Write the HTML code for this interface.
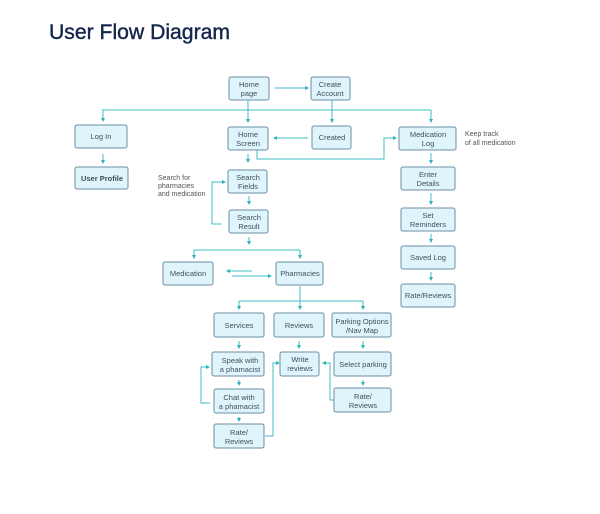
<!DOCTYPE html>
<html><head><meta charset="utf-8"><style>
html,body{margin:0;padding:0;background:#fff;}
svg{display:block;}
.b{fill:#e0f5fb;stroke:#6a8ea6;stroke-width:1;}
.t{font-family:"Liberation Sans",sans-serif;font-size:7.5px;fill:#3d4f5c;text-anchor:middle;}
.n{font-family:"Liberation Sans",sans-serif;font-size:7px;fill:#555;}
.l{stroke:#3fbfc6;stroke-width:1;fill:none;}
.a{fill:#2bb3bb;}
</style></head><body>
<svg width="600" height="514" viewBox="0 0 600 514" xmlns="http://www.w3.org/2000/svg">
<defs><marker id="m" markerWidth="4" markerHeight="4" refX="3" refY="2" orient="auto" markerUnits="userSpaceOnUse"><path d="M0,0 L4,2 L0,4 z" class="a"/></marker></defs>
<text x="49" y="39" font-family="Liberation Sans,sans-serif" font-size="21" fill="#14264d" stroke="#14264d" stroke-width="0.4" textLength="181" lengthAdjust="spacingAndGlyphs">User Flow Diagram</text>

<g class="l">
<path d="M102,110 H431"/>
<path d="M194,250 H300"/>
<path d="M300,286 V301"/>
<path d="M239,301 H363"/>
</g>
<g class="l" marker-end="url(#m)">
<path d="M275,88 H308"/>
<path d="M103,110 V121"/>
<path d="M248,100 V122"/>
<path d="M332,100 V122"/>
<path d="M431,110 V122"/>
<path d="M308,138 H274"/>
<path d="M257,150 V159 H384 V138 H396"/>
<path d="M248,154 V162"/>
<path d="M103,154 V163"/>
<path d="M249,196 V204"/>
<path d="M222,224 H212 V182 H225"/>
<path d="M249,237 V244"/>
<path d="M194,250 V258"/>
<path d="M300,250 V258"/>
<path d="M252,271 H227"/>
<path d="M232,276 H271"/>
<path d="M239,301 V309"/>
<path d="M300,301 V309"/>
<path d="M363,301 V309"/>
<path d="M239,341 V348"/>
<path d="M299,341 V348"/>
<path d="M363,341 V348"/>
<path d="M239,380 V385"/>
<path d="M239,417 V421"/>
<path d="M363,380 V385"/>
<path d="M210,403 H201 V367 H209"/>
<path d="M265,436 H273 V363 H279"/>
<path d="M334,400 H330 V363 H323"/>
<path d="M431,153 V163"/>
<path d="M431,193 V204"/>
<path d="M431,234 V242"/>
<path d="M431,272 V280"/>
</g>

<g>
<rect class="b" x="229" y="77" width="40" height="23" rx="2"/><text class="t" x="249" y="87">Home</text><text class="t" x="249" y="96">page</text>
<rect class="b" x="311" y="77" width="39" height="23" rx="2"/><text class="t" x="330" y="87">Create</text><text class="t" x="330" y="96">Account</text>
<rect class="b" x="75" y="125" width="52" height="23" rx="2"/><text class="t" x="101" y="139">Log In</text>
<rect class="b" x="228" y="127" width="40" height="23" rx="2"/><text class="t" x="248" y="137">Home</text><text class="t" x="248" y="146">Screen</text>
<rect class="b" x="312" y="126" width="39" height="23" rx="2"/><text class="t" x="332" y="140">Created</text>
<rect class="b" x="399" y="127" width="57" height="23" rx="2"/><text class="t" x="428" y="137">Medication</text><text class="t" x="428" y="146">Log</text>
<text class="n" x="465" y="136">Keep track</text><text class="n" x="465" y="145">of all medication</text>
<rect class="b" x="75" y="167" width="53" height="22" rx="2"/><text class="t" x="102" y="181" font-weight="bold">User Profile</text>
<text class="n" x="158" y="180">Search for</text><text class="n" x="158" y="188">pharmacies</text><text class="n" x="158" y="196">and medication</text>
<rect class="b" x="228" y="170" width="39" height="23" rx="2"/><text class="t" x="248" y="180">Search</text><text class="t" x="248" y="189">Fields</text>
<rect class="b" x="229" y="210" width="39" height="23" rx="2"/><text class="t" x="249" y="220">Search</text><text class="t" x="249" y="229">Result</text>
<rect class="b" x="401" y="167" width="54" height="23" rx="2"/><text class="t" x="428" y="177">Enter</text><text class="t" x="428" y="186">Details</text>
<rect class="b" x="401" y="208" width="54" height="23" rx="2"/><text class="t" x="428" y="218">Set</text><text class="t" x="428" y="227">Reminders</text>
<rect class="b" x="401" y="246" width="54" height="23" rx="2"/><text class="t" x="428" y="260">Saved Log</text>
<rect class="b" x="401" y="284" width="54" height="23" rx="2"/><text class="t" x="428" y="298">Rate/Reviews</text>
<rect class="b" x="163" y="262" width="50" height="23" rx="2"/><text class="t" x="188" y="276">Medication</text>
<rect class="b" x="276" y="262" width="47" height="23" rx="2"/><text class="t" x="300" y="276">Pharmacies</text>
<rect class="b" x="214" y="313" width="50" height="24" rx="2"/><text class="t" x="239" y="328">Services</text>
<rect class="b" x="274" y="313" width="50" height="24" rx="2"/><text class="t" x="299" y="328">Reviews</text>
<rect class="b" x="332" y="313" width="59" height="24" rx="2"/><text class="t" x="362" y="324">Parking Options</text><text class="t" x="362" y="333">/Nav Map</text>
<rect class="b" x="212" y="352" width="52" height="24" rx="2"/><text class="t" x="240" y="363">Speak with</text><text class="t" x="240" y="372">a phamacist</text>
<rect class="b" x="280" y="352" width="39" height="24" rx="2"/><text class="t" x="300" y="362">Write</text><text class="t" x="300" y="371">reviews</text>
<rect class="b" x="334" y="352" width="57" height="24" rx="2"/><text class="t" x="363" y="367">Select parking</text>
<rect class="b" x="214" y="389" width="50" height="24" rx="2"/><text class="t" x="239" y="400">Chat with</text><text class="t" x="239" y="409">a phamacist</text>
<rect class="b" x="214" y="424" width="50" height="24" rx="2"/><text class="t" x="239" y="435">Rate/</text><text class="t" x="239" y="444">Reviews</text>
<rect class="b" x="334" y="388" width="57" height="24" rx="2"/><text class="t" x="363" y="399">Rate/</text><text class="t" x="363" y="408">Reviews</text>
</g>
</svg>
</body></html>
